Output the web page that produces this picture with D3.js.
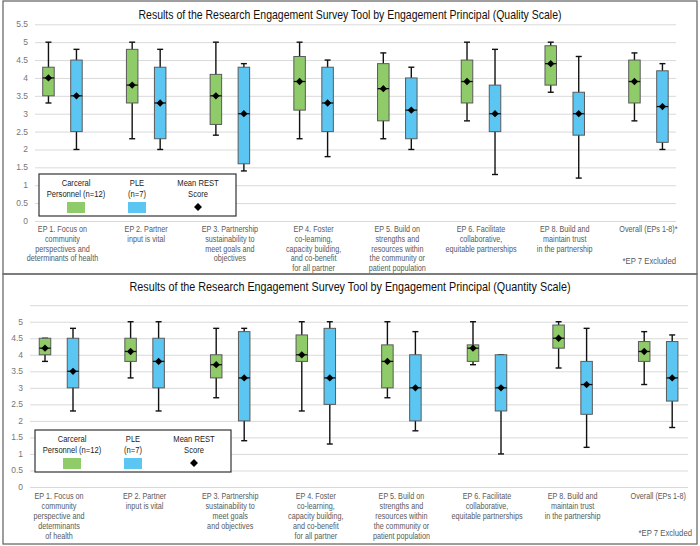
<!DOCTYPE html>
<html>
<head>
<meta charset="utf-8">
<script src="https://cdn.jsdelivr.net/npm/d3@7"></script>
<style>
  body { margin: 0; background: #fff; }
  svg { font-family: "Liberation Sans", Arial, sans-serif; }
</style>
</head>
<body>
<div id="canvas"></div>
<script>
// Chart size
const width = 700;
const height = 546;

const colors = {
  green: "#8fcb68",
  blue: "#5cc6f2",
  grid: "#d9d9d9",
  label: "#595959",
  frame: "#6b6b6b"
};

// Category labels (one entry per line)
const qualityCats = [
  ["EP 1. Focus on", "community", "perspectives and", "determinants of health"],
  ["EP 2. Partner", "input is vital"],
  ["EP 3. Partnership", "sustainability to", "meet goals and", "objectives"],
  ["EP 4. Foster", "co-learning,", "capacity building,", "and co-benefit", "for all partner"],
  ["EP 5. Build on", "strengths and", "resources within", "the community or", "patient population"],
  ["EP 6. Facilitate", "collaborative,", "equitable partnerships"],
  ["EP 8. Build and", "maintain trust", "in the partnership"],
  ["Overall (EPs 1-8)*"]
];
const quantityCats = [
  ["EP 1. Focus on", "community", "perspective and", "determinants", "of health"],
  ["EP 2. Partner", "input is vital"],
  ["EP 3. Partnership", "sustainability to", "meet goals", "and objectives"],
  ["EP 4. Foster", "co-learning,", "capacity building,", "and co-benefit", "for all partner"],
  ["EP 5. Build on", "strengths and", "resources within", "the community or", "patient population"],
  ["EP 6. Facilitate", "collaborative,", "equitable partnerships"],
  ["EP 8. Build and", "maintain trust", "in the partnership"],
  ["Overall (EPs 1-8)"]
];

const yTicks = [0, 0.5, 1, 1.5, 2, 2.5, 3, 3.5, 4, 4.5, 5, 5.5];

// [whisker low, box low, box high, whisker high, mean]
const qualityCarceral = [
  [3.3, 3.5, 4.3, 5.0, 4.0],
  [2.3, 3.3, 4.8, 5.0, 3.8],
  [2.4, 2.7, 4.1, 5.0, 3.5],
  [2.3, 3.1, 4.6, 5.0, 3.9],
  [2.3, 2.8, 4.4, 4.7, 3.7],
  [2.8, 3.3, 4.5, 5.0, 3.9],
  [3.6, 3.8, 4.9, 5.0, 4.4],
  [2.8, 3.3, 4.5, 4.7, 3.9]
];
const qualityPLE = [
  [2.0, 2.5, 4.5, 4.8, 3.5],
  [2.0, 2.3, 4.3, 4.8, 3.3],
  [1.4, 1.6, 4.3, 4.4, 3.0],
  [1.8, 2.5, 4.3, 4.5, 3.3],
  [2.0, 2.3, 4.0, 4.3, 3.1],
  [1.3, 2.5, 3.8, 4.8, 3.0],
  [1.2, 2.4, 3.6, 4.6, 3.0],
  [2.0, 2.2, 4.2, 4.4, 3.2]
];
const quantityCarceral = [
  [3.8, 4.0, 4.5, 4.5, 4.2],
  [3.3, 3.8, 4.5, 5.0, 4.1],
  [2.7, 3.3, 4.0, 4.8, 3.7],
  [2.3, 3.8, 4.6, 5.0, 4.0],
  [2.7, 3.0, 4.3, 5.0, 3.8],
  [3.7, 3.8, 4.3, 5.0, 4.2],
  [3.6, 4.2, 4.9, 5.0, 4.5],
  [3.1, 3.8, 4.4, 4.7, 4.1]
];
const quantityPLE = [
  [2.3, 3.0, 4.5, 4.8, 3.5],
  [2.3, 3.0, 4.5, 5.0, 3.8],
  [1.4, 2.0, 4.7, 4.8, 3.3],
  [1.3, 2.5, 4.8, 5.0, 3.3],
  [1.7, 2.0, 4.0, 4.7, 3.0],
  [1.0, 2.3, 4.0, 4.0, 3.0],
  [1.2, 2.2, 3.8, 4.8, 3.1],
  [1.8, 2.6, 4.4, 4.6, 3.3]
];

const legendItems = [
  { lines: ["Carceral", "Personnel (n=12)"], type: "swatch", color: colors.green },
  { lines: ["PLE", "(n=7)"], type: "swatch", color: colors.blue },
  { lines: ["Mean REST", "Score"], type: "diamond" }
];

let svg = d3.select('#canvas').append('svg')
  .attr('width', width)
  .attr('height', height);

svg.append('rect').attr('width', width).attr('height', height).attr('fill', '#fff');

// Panel layouts
const panels = [
  {
    title: "Results of the Research Engagement Survey Tool by Engagement Principal (Quality Scale)",
    cats: qualityCats, green: qualityCarceral, blue: qualityPLE,
    frame: [3, 1, 694, 273],
    titleY: 18.5, titleW: 423, yRange: [221, 24.3], xRange: [20.6, 690.3],
    gridX: [35, 676], tickX: 28, labelY: 232, showTop: true,
    legend: [39, 174, 197, 42], noteX: 676, noteY: 264
  },
  {
    title: "Results of the Research Engagement Survey Tool by Engagement Principal (Quantity Scale)",
    cats: quantityCats, green: quantityCarceral, blue: quantityPLE,
    frame: [3, 274, 694, 270],
    titleY: 291, titleW: 441, yRange: [487, 305.2], xRange: [16.2, 701],
    gridX: [30, 688], tickX: 23, labelY: 499.5, showTop: false,
    legend: [35, 430, 196, 42], noteX: 692, noteY: 536
  }
];

panels.forEach(drawPanel);

// text squeezed horizontally, to mimic the narrow font of the original
function narrowText(g, x, lines, y0, step, size, squeeze, fill, anchor) {
  let t = g.append('text')
    .attr('transform', `translate(${x},0) scale(${squeeze},1)`)
    .attr('text-anchor', anchor || 'middle')
    .style('font-size', size + 'px').attr('fill', fill);
  lines.forEach((l, j) => {
    t.append('tspan').attr('x', 0).attr('y', y0 + j * step).text(l);
  });
  return t;
}

function drawPanel(p) {
  let g = svg.append('g');
  let y = d3.scaleLinear().domain([0, 5.5]).range(p.yRange);
  let x = d3.scaleBand().domain(d3.range(p.cats.length)).range(p.xRange);
  let cx = i => x(i) + x.bandwidth() / 2;

  g.append('rect')
    .attr('x', p.frame[0]).attr('y', p.frame[1])
    .attr('width', p.frame[2]).attr('height', p.frame[3])
    .attr('fill', 'none').attr('stroke', colors.frame).attr('stroke-width', 1.3);

  g.append('text')
    .attr('x', 350).attr('y', p.titleY)
    .attr('text-anchor', 'middle')
    .attr('textLength', p.titleW).attr('lengthAdjust', 'spacingAndGlyphs')
    .style('font-size', '13px').attr('fill', '#111')
    .text(p.title);

  // gridlines + tick labels
  g.selectAll('.grid').data(yTicks).enter().append('line')
    .attr('x1', p.gridX[0]).attr('x2', p.gridX[1])
    .attr('y1', d => y(d) + 0.5).attr('y2', d => y(d) + 0.5)
    .attr('stroke', colors.grid).attr('stroke-width', 1);
  g.selectAll('.tick').data(yTicks.filter(d => p.showTop || d < 5.5)).enter().append('text')
    .attr('x', p.tickX).attr('y', d => y(d) + 3)
    .attr('text-anchor', 'end')
    .style('font-size', '8.5px').attr('fill', '#777')
    .text(d => d);

  // category labels
  p.cats.forEach((lines, i) => {
    narrowText(g, cx(i), lines, p.labelY, 9.8, 8.6, 0.84, colors.label);
  });

  drawBoxes(g, p.green, colors.green, -14, x, y);
  drawBoxes(g, p.blue, colors.blue, 14, x, y);

  drawLegend(g, p.legend);

  narrowText(g, p.noteX, ['*EP 7 Excluded'], p.noteY, 0, 9, 0.86, colors.label, 'end');
}

function drawBoxes(g, data, color, offset, x, y) {
  let boxW = 11.5;
  let cap = 3;
  let groups = g.selectAll(null).data(data).enter().append('g')
    .attr('transform', (d, i) => `translate(${x(i) + x.bandwidth() / 2 + offset},0)`);

  // whiskers
  groups.append('line')
    .attr('y1', d => y(d[0])).attr('y2', d => y(d[3]))
    .attr('stroke', '#111').attr('stroke-width', 1.4);
  groups.append('line')
    .attr('x1', -cap).attr('x2', cap)
    .attr('y1', d => y(d[0])).attr('y2', d => y(d[0]))
    .attr('stroke', '#111').attr('stroke-width', 1.4);
  groups.append('line')
    .attr('x1', -cap).attr('x2', cap)
    .attr('y1', d => y(d[3])).attr('y2', d => y(d[3]))
    .attr('stroke', '#111').attr('stroke-width', 1.4);

  // box
  groups.append('rect')
    .attr('x', -boxW / 2).attr('width', boxW)
    .attr('y', d => y(d[2])).attr('height', d => y(d[1]) - y(d[2]))
    .attr('fill', color).attr('stroke', '#5a5a5a').attr('stroke-width', 1);

  // median line + mean diamond
  groups.append('line')
    .attr('x1', -boxW / 2).attr('x2', boxW / 2)
    .attr('y1', d => y(d[4])).attr('y2', d => y(d[4]))
    .attr('stroke', '#111').attr('stroke-width', 1.3);
  groups.append('path')
    .attr('d', d3.symbol(d3.symbolDiamond2, 34))
    .attr('transform', d => `translate(0,${y(d[4])})`)
    .attr('fill', '#000');
}

function drawLegend(g, box) {
  let [lx, ly, lw, lh] = box;
  g.append('rect')
    .attr('x', lx).attr('y', ly).attr('width', lw).attr('height', lh)
    .attr('fill', '#fff').attr('stroke', '#333').attr('stroke-width', 1.2);
  let centers = [lx + 37, lx + 98, lx + 159];
  legendItems.forEach((item, i) => {
    narrowText(g, centers[i], item.lines, ly + 12, 11, 9.5, 0.8, '#222');
    if (item.type == "swatch") {
      g.append('rect')
        .attr('x', centers[i] - 9).attr('y', ly + 28)
        .attr('width', 18).attr('height', 11)
        .attr('fill', item.color);
    } else {
      g.append('path')
        .attr('d', d3.symbol(d3.symbolDiamond2, 40))
        .attr('transform', `translate(${centers[i]},${ly + 33})`)
        .attr('fill', '#000');
    }
  });
}
</script>
</body>
</html>
